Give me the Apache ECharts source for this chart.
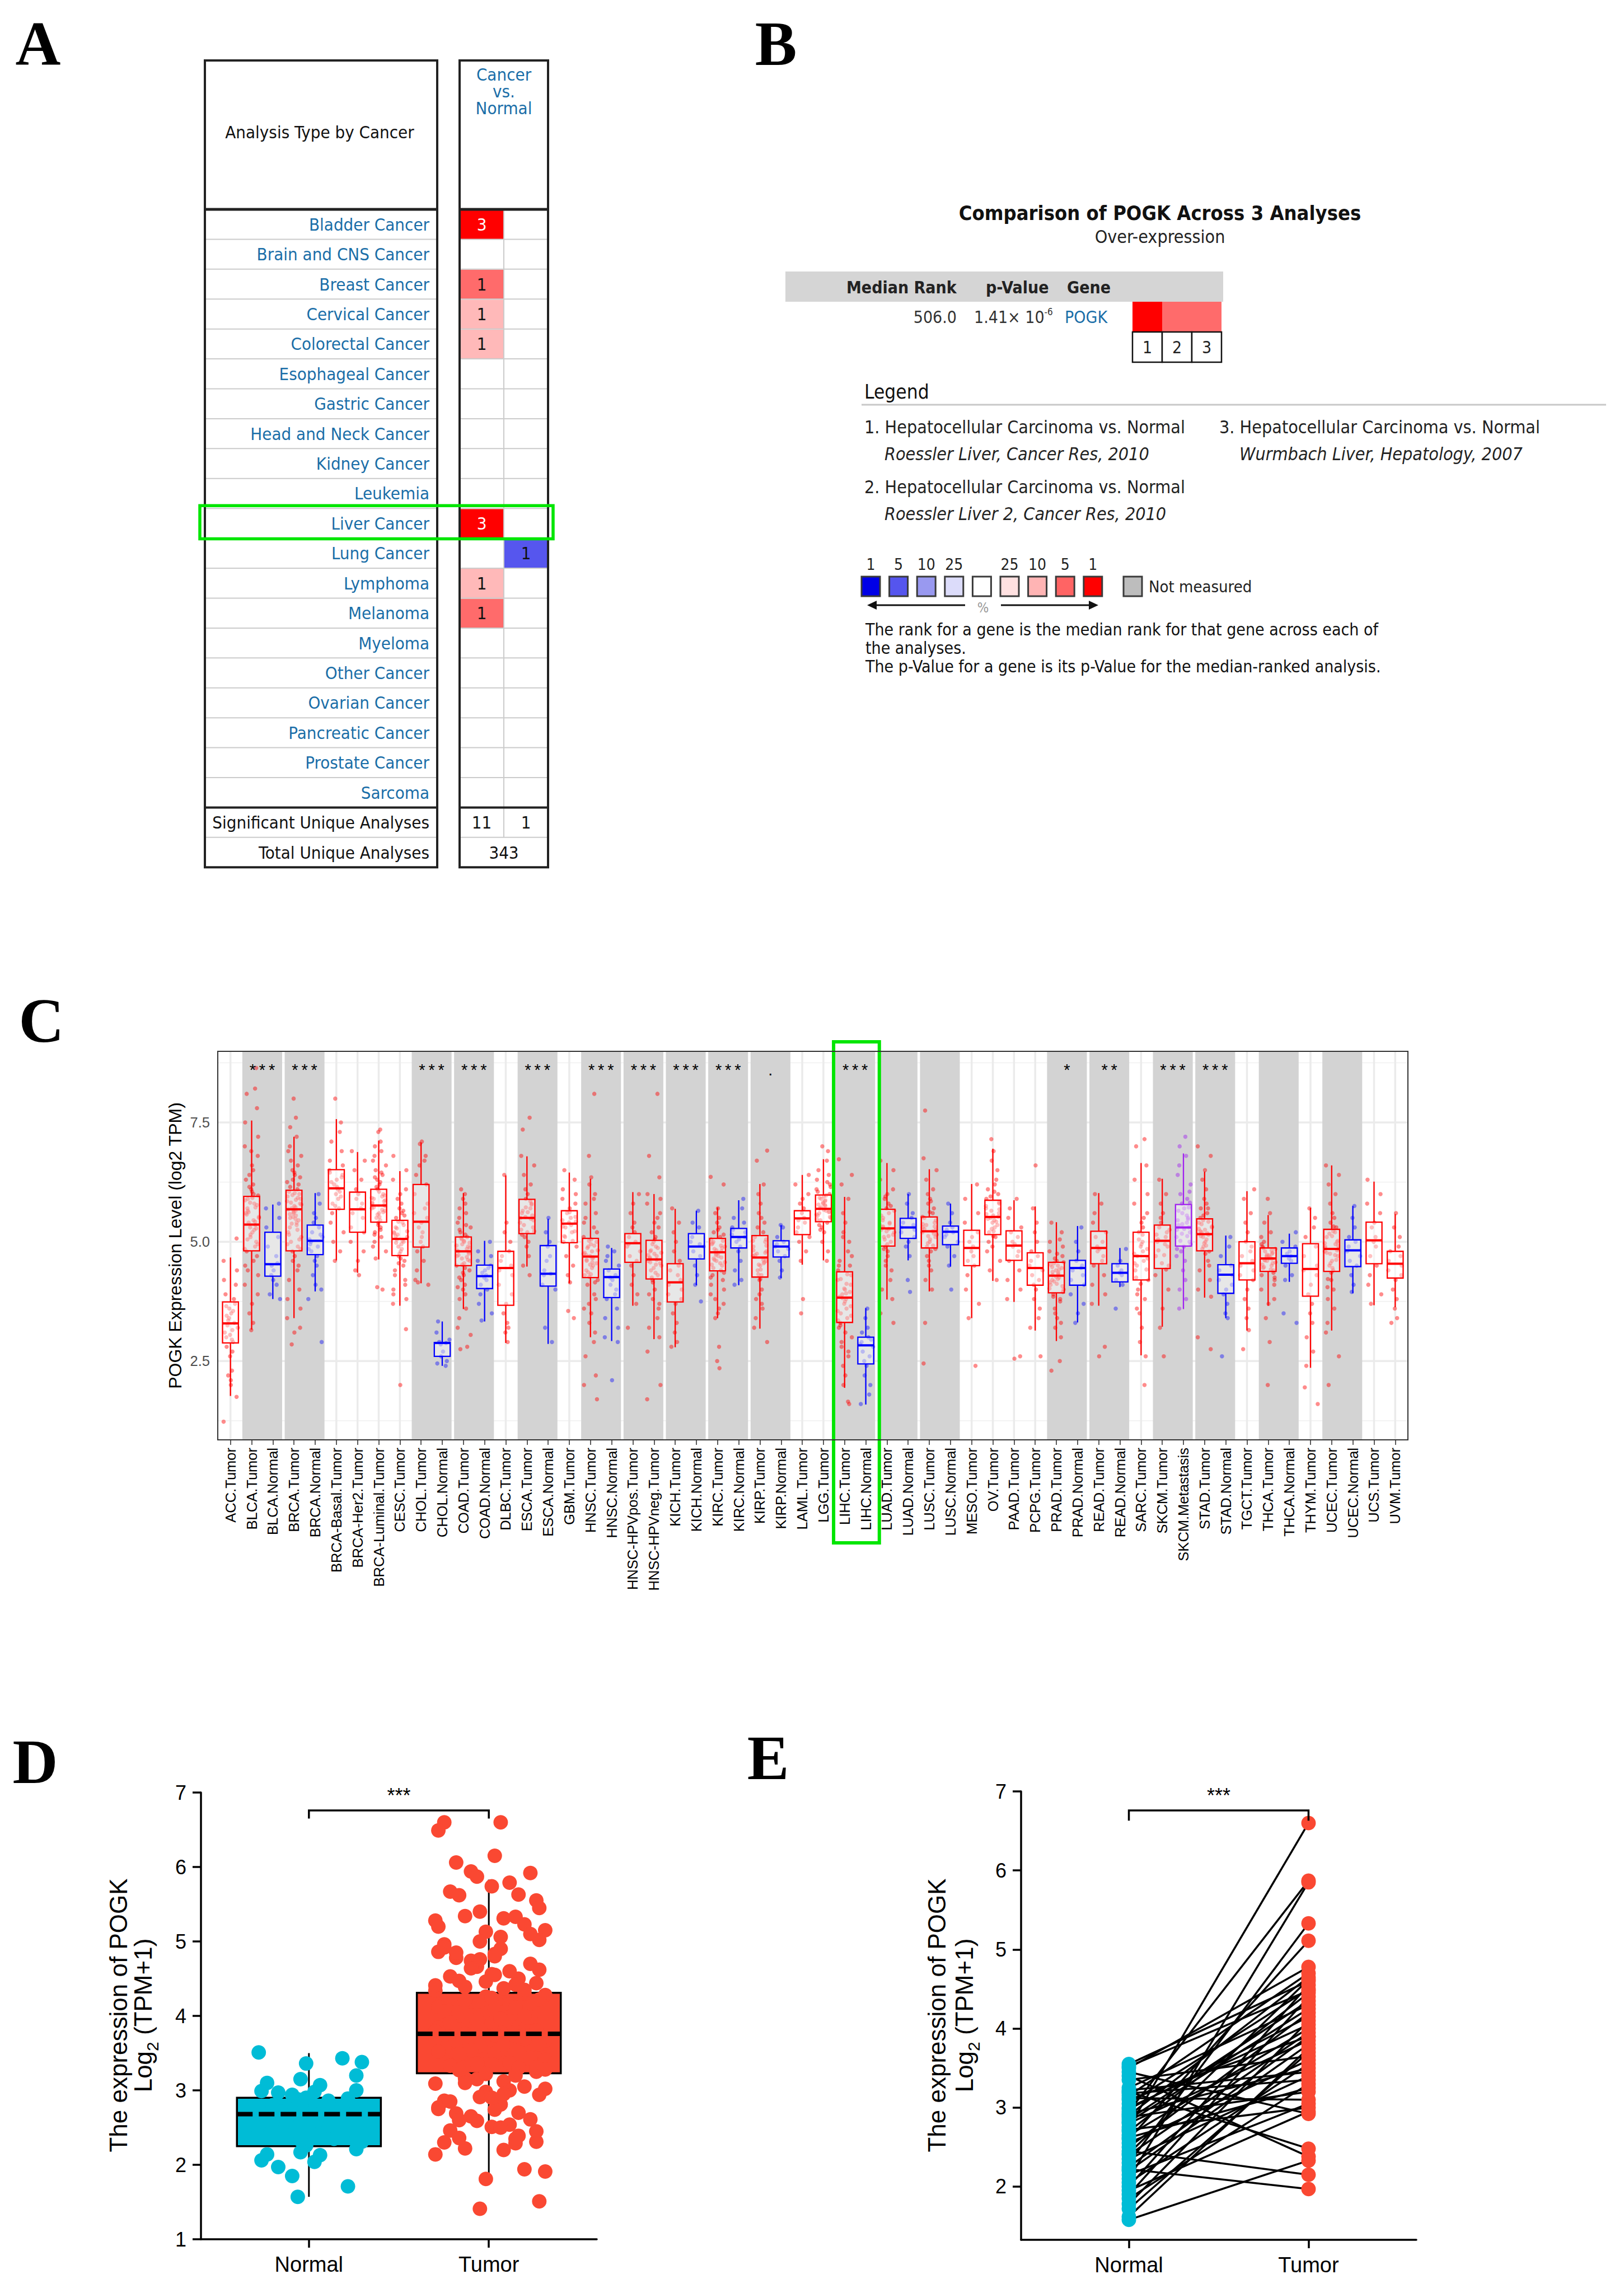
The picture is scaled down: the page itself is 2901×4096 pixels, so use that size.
<!DOCTYPE html>
<html><head><meta charset="utf-8">
<script src="https://cdn.jsdelivr.net/npm/echarts@6/dist/echarts.min.js"></script>
<style>html,body{margin:0;padding:0;background:#fff;}#c{width:2901px;height:4096px;}</style>
</head><body><div id="c"></div>
<script>
// ================= DATA =================
// Panel A (Oncomine summary)
const cancerTypes = ['Bladder Cancer','Brain and CNS Cancer','Breast Cancer','Cervical Cancer','Colorectal Cancer','Esophageal Cancer','Gastric Cancer','Head and Neck Cancer','Kidney Cancer','Leukemia','Liver Cancer','Lung Cancer','Lymphoma','Melanoma','Myeloma','Other Cancer','Ovarian Cancer','Pancreatic Cancer','Prostate Cancer','Sarcoma'];
const overCounts  = [3,null,1,1,1,null,null,null,null,null,3,null,1,1,null,null,null,null,null,null];
const overPct     = [1,null,5,10,10,null,null,null,null,null,1,null,10,5,null,null,null,null,null,null];
const underCounts = [null,null,null,null,null,null,null,null,null,null,null,1,null,null,null,null,null,null,null,null];
const underPct    = [null,null,null,null,null,null,null,null,null,null,null,5,null,null,null,null,null,null,null,null];
const significantUnique = [11, 1];
const totalUnique = 343;
const highlightRow = 10;

// Panel B
const geneName = 'POGK';
const medianRank = '506.0';
const pMantissa = '1.41\u00d7 10';
const pExponent = '-6';
const analysisPct = [1, 5, 5];
const analysisIds = [1, 2, 3];
const legendTitles = ['1. Hepatocellular Carcinoma vs. Normal','2. Hepatocellular Carcinoma vs. Normal','3. Hepatocellular Carcinoma vs. Normal'];
const legendRefs = ['Roessler Liver, Cancer Res, 2010','Roessler Liver 2, Cancer Res, 2010','Wurmbach Liver, Hepatology, 2007'];
const scaleLabels = ['1','5','10','25','','25','10','5','1'];
const scaleColors = ['#0000e6','#5555ee','#9999f0','#dcdcfa','#ffffff','#ffe1e1','#ffb4b4','#ff6464','#ff0000'];
const noteLines = ['The rank for a gene is the median rank for that gene across each of','the analyses.','The p-Value for a gene is its p-Value for the median-ranked analysis.'];

// Panel C (TIMER)
const tcgaCategories = ['ACC.Tumor','BLCA.Tumor','BLCA.Normal','BRCA.Tumor','BRCA.Normal','BRCA-Basal.Tumor','BRCA-Her2.Tumor','BRCA-Luminal.Tumor','CESC.Tumor','CHOL.Tumor','CHOL.Normal','COAD.Tumor','COAD.Normal','DLBC.Tumor','ESCA.Tumor','ESCA.Normal','GBM.Tumor','HNSC.Tumor','HNSC.Normal','HNSC-HPVpos.Tumor','HNSC-HPVneg.Tumor','KICH.Tumor','KICH.Normal','KIRC.Tumor','KIRC.Normal','KIRP.Tumor','KIRP.Normal','LAML.Tumor','LGG.Tumor','LIHC.Tumor','LIHC.Normal','LUAD.Tumor','LUAD.Normal','LUSC.Tumor','LUSC.Normal','MESO.Tumor','OV.Tumor','PAAD.Tumor','PCPG.Tumor','PRAD.Tumor','PRAD.Normal','READ.Tumor','READ.Normal','SARC.Tumor','SKCM.Tumor','SKCM.Metastasis','STAD.Tumor','STAD.Normal','TGCT.Tumor','THCA.Tumor','THCA.Normal','THYM.Tumor','UCEC.Tumor','UCEC.Normal','UCS.Tumor','UVM.Tumor'];
const boxLow  = [1.77,3.16,3.8,3.4,3.96,4.61,4.35,4.63,3.66,4.13,2.4,3.59,3.33,2.88,4.48,2.86,4.13,3.0,2.92,3.66,2.96,2.79,4.09,3.4,4.09,3.18,4.24,4.52,4.61,1.94,1.59,3.79,4.61,3.96,4.48,3.4,4.18,3.74,3.14,2.92,3.31,3.66,4.05,2.62,3.22,3.59,3.83,3.4,3.14,3.66,4.16,2.36,3.14,3.92,3.67,3.63];
const boxQ1   = [2.88,4.81,4.28,4.81,4.73,5.68,5.2,5.41,4.71,4.89,2.6,4.5,4.02,3.67,5.17,4.07,4.98,4.25,3.83,4.57,4.22,3.74,4.64,4.39,4.87,4.26,4.68,5.15,5.42,3.31,2.44,4.91,5.07,4.87,4.94,4.5,5.15,4.61,4.09,3.93,4.09,4.54,4.16,4.2,4.44,4.91,4.81,3.92,4.2,4.38,4.55,3.86,4.38,4.48,4.54,4.24];
const boxMed  = [3.29,5.36,4.53,5.68,5.02,6.12,5.68,5.76,5.06,5.42,2.88,4.8,4.28,4.45,5.5,4.33,5.38,4.69,4.26,4.97,4.63,4.15,4.9,4.78,5.1,4.67,4.9,5.49,5.69,3.83,2.83,5.28,5.3,5.22,5.21,4.87,5.52,4.92,4.45,4.29,4.45,4.87,4.35,4.7,5.02,5.3,5.16,4.31,4.55,4.65,4.7,4.43,4.85,4.82,5.03,4.54];
const boxQ3   = [3.74,5.95,5.2,6.08,5.35,6.51,6.04,6.1,5.45,6.2,2.89,5.1,4.51,4.8,5.89,4.92,5.65,5.07,4.43,5.17,5.03,4.54,5.17,5.07,5.28,5.13,5.02,5.65,5.98,4.37,3.0,5.68,5.49,5.52,5.33,5.24,5.87,5.23,4.77,4.57,4.61,5.22,4.54,5.2,5.35,5.78,5.48,4.52,5.0,4.87,4.87,4.96,5.26,5.04,5.41,4.8];
const boxHigh = [4.67,7.54,5.78,7.2,6.02,7.57,6.88,7.12,6.48,7.08,3.33,6.02,5.02,6.39,6.79,5.48,6.45,6.32,4.87,6.04,6.0,5.69,5.65,5.72,5.87,6.21,5.35,6.4,6.73,5.94,3.61,6.65,6.0,6.52,5.8,6.21,6.95,5.87,5.74,5.41,5.33,6.02,4.87,6.65,6.32,6.85,6.47,5.13,6.06,5.56,5.17,5.71,6.6,5.75,6.26,5.58];
const sigBands = [[1,2,'***'],[3,4,'***'],[9,10,'***'],[11,12,'***'],[14,15,'***'],[17,18,'***'],[19,20,'***'],[21,22,'***'],[23,24,'***'],[25,26,'.'],[29,30,'***'],[31,32,''],[33,34,''],[39,40,'*'],[41,42,'**'],[44,45,'***'],[46,47,'***'],[49,50,''],[52,53,'']];
const highlightCats = [29, 30];
const cTicks = [2.5, 5.0, 7.5];
const cMinorGrid = [1.25, 3.75, 6.25, 8.75];
const tcgaPoints = [
 [1.23,1.75,2.0,2.2,2.3,2.6,2.7,2.8,2.9,3.0,3.1,3.2,3.25,3.3,3.4,3.5,3.6,3.7,3.8,3.9,4.1,4.2,4.4,4.6,5.07,2.1,3.35,2.95,3.05,3.15,3.45,3.55,3.65],
 [8.64,8.21,8.1,7.8,7.5,7.2,7.0,6.8,6.6,6.4,6.2,6.1,6.0,5.9,5.8,5.7,5.6,5.5,5.4,5.35,5.3,5.2,5.1,5.0,4.9,4.8,4.7,4.5,4.3,4.1,3.9,3.7,3.5,3.3,3.15,5.45,5.65,5.25,5.05,6.3,5.52,5.62,5.72,5.82,5.92,5.15,5.28,5.42,5.57,5.77,5.87,5.97,4.85,4.95,6.05,6.15,6.5,6.9,4.6,4.4],
 [3.8,3.9,4.1,4.3,4.4,4.5,4.55,4.7,4.9,5.1,5.3,5.5,5.7,5.8,4.2],
 [8.0,7.6,7.4,7.2,7.0,6.9,6.8,6.7,6.6,6.5,6.4,6.3,6.2,6.1,6.05,6.0,5.95,5.9,5.85,5.8,5.75,5.7,5.65,5.6,5.55,5.5,5.4,5.3,5.2,5.1,5.0,4.9,4.8,4.7,4.6,4.5,4.4,4.2,4.0,3.8,3.6,3.4,3.2,3.1,2.85,5.72,5.62,5.88,6.15,5.35,5.58,5.68,5.78,5.82,5.92,5.98,6.02,5.52,5.45,5.25,5.15,5.05,4.95,4.85,6.25,6.35,6.45,5.38,5.48,5.66],
 [2.9,3.8,4.0,4.1,4.3,4.5,4.6,4.7,4.8,4.9,5.0,5.05,5.1,5.2,5.3,5.4,5.5,5.6,5.8,6.0,4.95,5.15,4.85],
 [8.0,7.5,7.3,7.1,6.9,6.7,6.6,6.5,6.4,6.3,6.2,6.1,6.0,5.9,5.8,5.7,5.6,5.4,5.2,5.0,4.8,4.6,6.15,5.75,5.95,6.05,6.25,6.35,6.45],
 [6.9,6.7,6.5,6.3,6.1,6.0,5.9,5.8,5.7,5.6,5.5,5.3,5.2,5.0,4.8,4.6,4.4,4.3],
 [7.35,7.3,7.1,7.0,6.9,6.8,6.7,6.6,6.5,6.4,6.3,6.2,6.1,6.0,5.95,5.9,5.85,5.8,5.75,5.7,5.65,5.6,5.5,5.45,5.4,5.3,5.2,5.1,5.0,4.9,4.8,4.65,4.0,4.05,5.52,5.57,5.62,5.67,5.72,5.77,5.82,5.87,5.92,5.97,6.05,6.15,6.25,5.35,5.25,6.35,6.45,5.15],
 [6.8,6.5,6.3,6.1,6.0,5.9,5.8,5.7,5.6,5.5,5.4,5.3,5.2,5.1,5.05,5.0,4.9,4.8,4.7,4.6,4.5,4.4,4.2,4.0,3.8,3.7,3.17,2.0,5.15,4.95,4.75,4.85,4.98,5.02,5.12,5.18,5.22,5.28,5.35,5.42,4.65,4.55,5.55,5.65,4.3,4.1,3.9],
 [7.1,7.05,6.8,6.7,6.4,6.2,6.0,5.8,5.6,5.5,5.4,5.3,5.2,5.0,4.9,4.8,4.6,4.4,4.2,4.1,4.15,5.7,6.6,5.1],
 [3.33,3.1,2.95,2.9,2.88,2.85,2.7,2.6,2.5,2.4,2.45],
 [6.1,6.0,5.9,5.8,5.7,5.6,5.5,5.4,5.3,5.2,5.1,5.05,5.0,4.95,4.9,4.85,4.8,4.75,4.7,4.6,4.5,4.4,4.3,4.2,4.1,4.0,3.9,3.8,3.6,3.4,3.2,3.05,2.75,2.8,4.65,4.55,4.52,4.62,4.68,4.72,4.78,4.82,4.88,4.92,4.98,5.02,5.08,4.45,4.35,5.15,5.25,5.35,4.25,4.05],
 [5.0,4.8,4.7,4.6,4.5,4.4,4.35,4.3,4.25,4.2,4.1,4.0,3.9,3.7,3.5,3.35,4.45],
 [6.4,5.4,5.2,5.0,4.8,4.6,4.5,4.4,4.3,4.1,3.9,3.7,3.5,3.3,3.1,2.9,4.7,3.2],
 [7.6,7.35,6.8,6.6,6.4,6.2,6.1,6.0,5.9,5.8,5.7,5.6,5.55,5.5,5.45,5.4,5.3,5.2,5.1,5.0,4.9,4.7,4.5,4.3,5.65,5.25,5.22,5.35,5.48,5.52,5.62,5.72,5.78,5.85,5.15],
 [5.5,5.2,5.0,4.9,4.7,4.4,4.33,4.3,4.1,4.0,3.2,2.9,4.6],
 [6.5,6.3,6.1,6.0,5.9,5.8,5.7,5.6,5.5,5.4,5.35,5.3,5.2,5.1,5.0,4.9,4.7,4.5,4.3,4.15,3.55,3.4,5.02,5.12,5.22,5.32,5.42,5.45,5.52,5.62],
 [8.1,6.8,6.35,6.2,6.0,5.9,5.8,5.6,5.4,5.2,5.1,5.0,4.95,4.9,4.8,4.7,4.65,4.6,4.5,4.4,4.3,4.2,4.1,3.9,3.7,3.5,3.3,3.1,2.9,2.6,2.2,2.0,1.7,4.75,4.55,4.32,4.36,4.45,4.52,4.57,4.62,4.67,4.72,4.77,4.82,4.87,4.92,5.02,5.05,4.27,4.15,5.3,5.5,3.8,3.6],
 [4.9,4.8,4.7,4.6,4.5,4.4,4.3,4.25,4.2,4.1,4.0,3.9,3.8,3.6,3.4,3.2,3.0,2.9,2.1],
 [6.0,5.8,5.6,5.4,5.3,5.2,5.1,5.0,4.95,4.9,4.8,4.7,4.6,4.5,4.3,4.1,3.9,3.7,3.2],
 [8.1,6.8,6.35,6.0,5.9,5.8,5.6,5.4,5.2,5.1,5.0,4.9,4.8,4.7,4.65,4.6,4.5,4.4,4.3,4.2,4.0,3.8,3.6,3.4,3.2,3.0,2.7,2.0,1.7,4.55,4.75,4.25,4.35,4.45,4.52,4.57,4.62,4.67,4.72,4.77,4.82,4.87,4.95,5.05,4.15,5.3,5.5,3.9,3.7],
 [5.7,5.4,5.2,5.0,4.8,4.6,4.5,4.4,4.2,4.1,4.0,3.9,3.8,3.7,3.5,3.3,3.1,2.9,2.8,4.3],
 [5.65,5.4,5.3,5.1,5.0,4.9,4.8,4.7,4.5,4.3,4.1,3.75,4.95],
 [6.36,6.2,5.7,5.6,5.5,5.4,5.3,5.2,5.1,5.0,4.95,4.9,4.85,4.8,4.75,4.7,4.6,4.5,4.4,4.3,4.2,4.1,4.0,3.9,3.7,3.5,3.4,2.8,2.5,2.35,4.65,4.55,4.45,4.52,4.57,4.62,4.67,4.72,4.77,4.82,4.87,4.92,4.97,5.02,5.05,4.35,4.25,5.15,5.25,3.8,3.6],
 [5.9,5.7,5.5,5.4,5.3,5.2,5.15,5.1,5.05,5.0,4.9,4.8,4.6,4.4,4.2,4.1,5.25],
 [6.91,6.7,6.2,6.0,5.8,5.6,5.4,5.2,5.1,5.0,4.9,4.8,4.7,4.6,4.5,4.4,4.3,4.2,4.0,3.8,3.6,3.4,3.2,2.9,4.75,4.55,4.32,4.42,4.52,4.57,4.62,4.72,4.77,4.82,4.92,5.02,5.05,4.22,5.3,5.5,3.9,3.7],
 [5.35,5.3,5.1,5.0,4.95,4.9,4.85,4.8,4.7,4.6,4.4,4.25],
 [6.4,6.2,6.0,5.9,5.8,5.7,5.6,5.5,5.45,5.4,5.3,5.2,5.1,5.0,4.8,4.6,3.8,3.5],
 [7.0,6.9,6.7,6.5,6.4,6.3,6.2,6.1,6.0,5.95,5.9,5.85,5.8,5.75,5.7,5.65,5.6,5.55,5.5,5.45,5.4,5.3,5.2,5.0,4.8,4.6,5.78,5.62,5.47,5.52,5.57,5.63,5.67,5.72,5.77,5.82,5.87,5.92,5.97,5.35,6.05,6.15,5.25,6.25],
 [6.73,6.4,6.2,5.9,5.6,5.4,5.2,5.0,4.8,4.6,4.5,4.4,4.3,4.2,4.1,4.0,3.9,3.8,3.7,3.6,3.5,3.4,3.3,3.2,3.0,2.8,2.6,2.4,2.2,2.0,1.6,1.65,3.85,3.95,3.35,3.45,3.55,3.65,3.75,3.82,3.92,4.02,4.12,4.22,4.32,3.25,4.5,4.7,2.9,2.7,5.1,3.1],
 [3.6,3.4,3.2,3.1,3.0,2.9,2.85,2.8,2.7,2.6,2.5,2.4,2.2,2.0,1.8,1.6,2.95],
 [6.7,6.5,6.3,6.1,6.0,5.9,5.8,5.7,5.6,5.5,5.4,5.3,5.25,5.2,5.1,5.0,4.9,4.8,4.6,4.4,4.2,4.0,3.8,3.5,3.3,5.35,5.15,4.95,5.05,5.12,5.22,5.27,5.32,5.38,5.45,5.55,5.65,4.85,5.75,5.95,4.7,4.5],
 [6.0,5.8,5.6,5.5,5.4,5.35,5.3,5.25,5.2,5.1,5.0,4.9,4.7,4.2,3.95],
 [7.75,6.75,6.5,6.3,6.1,6.0,5.9,5.8,5.7,5.6,5.5,5.4,5.3,5.25,5.2,5.1,5.0,4.9,4.8,4.6,4.4,4.2,4.0,3.3,2.45,5.15,5.35,4.92,4.97,5.05,5.12,5.17,5.22,5.27,5.32,5.37,5.45,5.52,4.85,5.62,4.7,5.85,4.5],
 [5.8,5.6,5.4,5.3,5.25,5.2,5.15,5.1,5.0,4.9,4.7,4.5,4.0],
 [6.2,5.9,5.6,5.4,5.2,5.1,5.0,4.9,4.8,4.7,4.6,4.5,4.3,4.0,3.7,3.4,2.4],
 [7.15,6.9,6.7,6.5,6.3,6.1,6.0,5.9,5.8,5.7,5.6,5.55,5.5,5.45,5.4,5.3,5.2,5.1,5.0,4.8,4.6,4.4,4.2,5.65,5.22,5.27,5.35,5.42,5.48,5.53,5.58,5.68,5.75,5.82,5.12,5.95,6.05,4.9,6.2],
 [5.9,5.7,5.5,5.3,5.2,5.1,5.0,4.95,4.9,4.8,4.7,4.6,4.4,4.2,4.0,3.8,2.6,2.55],
 [6.6,5.7,5.4,5.2,5.0,4.8,4.7,4.6,4.5,4.4,4.3,4.2,4.1,4.0,3.8,3.6,3.4,3.2,2.6],
 [5.4,5.2,5.0,4.9,4.8,4.7,4.6,4.55,4.5,4.4,4.35,4.3,4.25,4.2,4.1,4.0,3.9,3.8,3.6,3.4,3.2,3.0,2.5,2.3,4.45,4.15,3.95,4.02,4.07,4.12,4.17,4.22,4.27,4.32,4.37,4.42,4.47,4.52,4.57,3.85,3.75,4.65,4.75,3.5,3.3,5.05],
 [5.3,5.0,4.8,4.6,4.5,4.45,4.4,4.3,4.2,4.1,3.9,3.7,3.5,3.3],
 [6.0,5.8,5.6,5.4,5.2,5.1,5.0,4.9,4.85,4.8,4.7,4.6,4.5,4.3,4.1,3.9,3.7,2.8,2.6],
 [4.85,4.6,4.5,4.4,4.35,4.3,4.2,4.1,3.6],
 [7.15,7.0,6.6,6.3,6.0,5.8,5.6,5.4,5.2,5.0,4.9,4.8,4.7,4.6,4.5,4.4,4.2,4.0,3.8,3.5,3.2,2.9,2.6,2.0,4.25,4.42,4.55,4.65,4.75,4.85,4.95,5.05,5.15,4.12,5.3,3.9,5.5,3.6],
 [6.3,6.0,5.8,5.6,5.4,5.2,5.1,5.0,4.9,4.7,4.5,4.3,4.0,3.6,3.2,2.6,4.55,4.72,4.82,4.95,5.05,5.15,5.25,5.3,4.42,5.5],
 [7.2,7.0,6.8,6.6,6.4,6.2,6.0,5.9,5.8,5.7,5.6,5.5,5.4,5.35,5.3,5.25,5.2,5.1,5.0,4.9,4.8,4.6,4.4,4.2,4.0,3.8,3.6,5.45,4.95,5.02,5.12,5.17,5.27,5.37,5.47,5.55,5.65,5.72,4.85,5.82,4.7,6.05],
 [7.0,6.8,6.5,6.3,6.1,5.9,5.8,5.7,5.6,5.5,5.4,5.3,5.2,5.15,5.1,5.0,4.9,4.8,4.6,4.4,4.2,4.0,3.85,3.0,2.75,5.25,4.85,4.92,4.97,5.05,5.12,5.18,5.22,5.27,5.32,5.37,5.42,5.45,4.75,5.55,4.5,5.7],
 [5.1,4.9,4.7,4.5,4.4,4.3,4.2,4.1,4.0,3.9,3.7,3.5,3.4,2.6],
 [6.1,5.9,5.6,5.4,5.2,5.0,4.9,4.8,4.7,4.6,4.5,4.4,4.3,4.2,4.0,3.8,3.6,3.4,3.15,2.75],
 [5.9,5.6,5.4,5.2,5.0,4.9,4.85,4.8,4.75,4.7,4.65,4.6,4.55,4.5,4.45,4.4,4.3,4.2,4.0,3.8,3.7,3.4,2.9,2.0,4.68,4.62,4.42,4.47,4.52,4.57,4.61,4.64,4.67,4.71,4.73,4.77,4.82,4.87,4.35,4.95,4.25,5.1,4.1],
 [5.2,5.0,4.9,4.8,4.75,4.7,4.65,4.6,4.5,4.3,4.2,3.5,3.3],
 [5.7,5.5,5.3,5.1,4.9,4.7,4.5,4.4,4.3,4.1,3.9,3.7,3.5,3.3,3.0,2.7,2.4,1.95,1.6],
 [6.6,6.4,6.2,6.0,5.8,5.6,5.4,5.3,5.2,5.1,5.0,4.9,4.85,4.8,4.7,4.6,4.5,4.4,4.2,4.0,3.8,3.6,3.3,3.1,2.6,2.0,4.95,4.75,4.45,4.55,4.62,4.72,4.77,4.82,4.87,4.92,4.97,5.02,5.12,5.17,5.22,4.35,5.32,4.22,5.5,4.05],
 [5.75,5.5,5.3,5.1,5.0,4.9,4.8,4.7,4.6,4.5,4.3,4.1,3.95],
 [6.3,6.0,5.8,5.6,5.4,5.3,5.1,5.0,4.9,4.7,4.5,4.3,4.1,3.9,3.7],
 [5.6,5.3,5.1,4.9,4.8,4.7,4.6,4.5,4.4,4.3,4.2,4.0,3.8,3.6,3.4,3.3]
];

// Panel D (unpaired)
const groupNames = ['Normal', 'Tumor'];
const dNormalBox = [1.57, 2.25, 2.68, 2.9, 3.5];
const dTumorBox  = [1.8, 3.23, 3.76, 4.31, 5.83];
const dNormalPts = [3.51,3.43,3.38,3.36,3.2,3.15,3.1,3.07,2.99,2.98,2.97,2.94,2.89,2.88,2.86,2.81,2.75,2.74,2.71,2.66,2.61,2.6,2.51,2.46,2.39,2.31,2.26,2.21,2.17,2.14,2.13,2.06,2.04,1.97,1.85,1.71,1.57,2.55,2.7,2.8,2.45,2.62,2.72,2.35,2.58,2.68,2.52,2.78,2.42,2.9,3.0,2.33];
const dTumorPts = [6.6,6.6,6.49,6.15,6.06,5.94,5.92,5.87,5.79,5.74,5.67,5.63,5.62,5.55,5.33,5.34,5.31,5.28,5.23,5.15,5.13,5.02,5.0,4.96,4.9,4.86,4.83,4.78,4.74,4.7,4.66,4.6,4.56,4.53,4.5,4.47,4.44,4.42,4.39,4.37,4.34,
 4.3,4.28,4.26,4.22,4.2,4.17,4.14,4.12,4.09,4.05,4.01,3.98,3.95,3.93,3.9,3.87,3.85,3.82,3.8,3.78,3.76,3.73,3.71,3.69,3.67,3.64,3.62,3.6,3.57,3.55,3.52,3.5,3.47,3.45,3.42,3.4,3.37,3.35,3.33,3.3,3.27,3.25,
 3.2,3.16,3.12,3.09,3.05,3.02,2.98,2.94,2.91,2.86,2.81,2.77,2.74,2.69,2.65,2.61,2.59,2.54,2.51,2.46,2.39,2.36,2.31,2.29,2.22,2.2,2.14,1.94,1.91,1.81,1.51,1.41,
 4.06,3.96,3.84,3.74,3.66,3.54,3.44,3.36,4.16,4.24,3.91,3.72,3.49,3.31,4.11,4.21,3.61,3.79,4.0,3.41,4.46,4.62,4.76,4.92,5.06,5.2,4.55,4.85,4.64,5.1,
 3.15,3.0,2.9,2.85,2.7,2.6,2.45,2.35,3.1,2.95,4.41,4.35,3.28,3.22,5.45,5.4,2.3,2.5,2.75,4.8];
const dSig = '***';

// Panel E (paired)
const pairNormal = [2.75,2.95,2.1,2.3,2.6,3.55,3.4,3.2,2.45,2.22,1.58,3.5,3.15,2.9,2.0,3.05,2.7,1.9,2.85,3.25,2.5,1.78,3.0,2.65,2.4,3.1,2.8,2.2,1.72,3.35,2.55,2.05,2.92,3.22,2.35,1.85,2.62,3.12,2.15,2.72,1.95,3.45,2.82,2.98,1.62,2.42,3.18,2.88,3.52,2.25];
const pairTumor  = [6.6,5.87,5.85,5.33,5.11,4.6,2.38,2.48,2.15,1.97,2.33,4.78,4.7,4.65,4.55,4.5,4.45,4.4,4.35,4.3,4.2,4.1,4.05,4.0,3.95,3.9,3.85,3.8,3.7,3.65,3.6,3.55,3.5,3.45,3.4,3.3,3.25,3.1,3.05,3.0,2.95,2.92,4.25,4.15,3.75,4.62,3.35,3.2,4.48,3.9];
const eSig = '***';

// ================= STYLE / LAYOUT =================
const SERIF = "'Liberation Serif','Times New Roman',serif";
const COND = "'DejaVu Sans Condensed','Liberation Sans Narrow','DejaVu Sans',sans-serif";
const SANS = "'Liberation Sans',Arial,sans-serif";
const BLUE_TXT = '#1a6ea8';
const OVER_COL = {1:'#ff0000',5:'#ff6b6b',10:'#ffb9b9',25:'#ffe1e1'};
const UNDER_COL = {1:'#0000e6',5:'#5656ee',10:'#9999f0',25:'#dcdcfa'};
const TYPE_COL = {T:'#ff0000', N:'#0000ff', M:'#a020f0'};
const NORMAL_C = '#00bcd6', TUMOR_C = '#fa4832';
const JIT = [-0.9,0.35,-0.15,0.8,-0.55,0.6,0.05,-0.75,0.45,-0.3,0.95,-0.65,0.2,-0.4,0.7,-0.05,0.5,-0.85,0.25,-0.2,0.85,-0.5,0.1];
const typeOf = c => c.endsWith('Normal') ? 'N' : (c.endsWith('Metastasis') ? 'M' : 'T');
const spacedStars = s => s.split('').join('\u2009');

const G = [];
function T(x, y, text, s, extra) {
  const st = Object.assign({text: String(text), fontFamily: COND, fontSize: 31, fill: '#000', align: 'left', verticalAlign: 'middle'}, s || {});
  st.textAlign = st.align; st.textVerticalAlign = st.verticalAlign;
  G.push(Object.assign({type: 'text', x: x, y: y, z: 20, style: st}, extra || {}));
}
function R(x, y, w, h, s, z) { G.push({type: 'rect', z: z || 10, shape: {x: x, y: y, width: w, height: h}, style: s}); }
function L(x1, y1, x2, y2, stroke, lw, z) { G.push({type: 'line', z: z || 15, shape: {x1: x1, y1: y1, x2: x2, y2: y2}, style: {stroke: stroke, lineWidth: lw}}); }
function P(points, fill, z) { G.push({type: 'polygon', z: z || 15, shape: {points: points}, style: {fill: fill}}); }

// Panel letters
const LETTER = {fontFamily: SERIF, fontWeight: 'bold', fontSize: 112, align: 'center'};
T(68, 78, 'A', LETTER); T(1386, 78, 'B', LETTER); T(74, 1823, 'C', LETTER); T(63, 3147, 'D', LETTER); T(1372, 3140, 'E', LETTER);

// ---- Panel A table ----
(function () {
  const aL = 366, aR = 781, bL = 821, bR = 979, bM = 900, top = 108, head = 374, rh = 53.42;
  const rowY = i => head + i * rh;
  const sumTop = rowY(cancerTypes.length), end = sumTop + 2 * rh;
  cancerTypes.forEach((name, i) => {
    const y = rowY(i);
    T(767, y + rh / 2, name, {align: 'right', fill: BLUE_TXT});
    if (overCounts[i] != null) {
      R(bL + 2, y + 1, bM - bL - 2, rh - 1, {fill: OVER_COL[overPct[i]]}, 11);
      T((bL + bM) / 2, y + rh / 2, overCounts[i], {align: 'center', fill: overPct[i] === 1 ? '#fff' : '#111'});
    }
    if (underCounts[i] != null) {
      R(bM + 1, y + 1, bR - bM - 3, rh - 1, {fill: UNDER_COL[underPct[i]]}, 11);
      T((bM + bR) / 2, y + rh / 2, underCounts[i], {align: 'center', fill: underPct[i] === 1 ? '#fff' : '#111'});
    }
    if (i > 0) { L(aL, y, aR, y, '#cbcbcb', 2); L(bL, y, bR, y, '#cbcbcb', 2); }
  });
  L(aL, sumTop + rh, aR, sumTop + rh, '#cbcbcb', 2); L(bL, sumTop + rh, bR, sumTop + rh, '#cbcbcb', 2);
  L(bM, head, bM, sumTop + rh, '#cbcbcb', 2);
  L(aL, head, aR, head, '#222', 5, 16); L(bL, head, bR, head, '#222', 5, 16);
  L(aL, sumTop, aR, sumTop, '#222', 4, 16); L(bL, sumTop, bR, sumTop, '#222', 4, 16);
  R(aL, top, aR - aL, end - top, {fill: 'none', stroke: '#222', lineWidth: 4}, 17);
  R(bL, top, bR - bL, end - top, {fill: 'none', stroke: '#222', lineWidth: 4}, 17);
  T(571, 236, 'Analysis Type by Cancer', {align: 'center', fill: '#111'});
  T(bM, 133, 'Cancer', {align: 'center', fill: BLUE_TXT});
  T(bM, 163, 'vs.', {align: 'center', fill: BLUE_TXT});
  T(bM, 193, 'Normal', {align: 'center', fill: BLUE_TXT});
  T(767, sumTop + rh / 2, 'Significant Unique Analyses', {align: 'right', fill: '#111'});
  T(767, sumTop + 1.5 * rh, 'Total Unique Analyses', {align: 'right', fill: '#111'});
  T((bL + bM) / 2, sumTop + rh / 2, significantUnique[0], {align: 'center', fill: '#111'});
  T((bM + bR) / 2, sumTop + rh / 2, significantUnique[1], {align: 'center', fill: '#111'});
  T(bM, sumTop + 1.5 * rh, totalUnique, {align: 'center', fill: '#111'});
  R(357, rowY(highlightRow) - 5, 631, rh + 6, {fill: 'none', stroke: '#00e600', lineWidth: 5.5}, 25);
})();

// ---- Panel B ----
(function () {
  const TX = '#222';
  T(2072, 380, 'Comparison of ' + geneName + ' Across ' + analysisIds.length + ' Analyses', {align: 'center', fontWeight: 'bold', fontSize: 36, fill: '#111'});
  T(2072, 423, 'Over-expression', {align: 'center', fontSize: 32, fill: TX});
  R(1403, 485, 782, 54, {fill: '#d5d5d5'}, 9);
  T(1512, 513, 'Median Rank', {fontWeight: 'bold', fontSize: 30, fill: TX});
  T(1761, 513, 'p-Value', {fontWeight: 'bold', fontSize: 30, fill: TX});
  T(1906, 513, 'Gene', {fontWeight: 'bold', fontSize: 30, fill: TX});
  T(1709, 566, medianRank, {align: 'right', fontSize: 30, fill: '#333'});
  T(1740, 566, '{m|' + pMantissa + '}{e|' + pExponent + '}', {fontSize: 30, fill: '#333',
    rich: {m: {fontSize: 30, fontFamily: COND, fill: '#333', lineHeight: 36}, e: {fontSize: 17, fontFamily: COND, fill: '#333', lineHeight: 36, verticalAlign: 'top'}}});
  T(1902, 566, geneName, {fontSize: 30, fill: BLUE_TXT});
  analysisPct.forEach((p, k) => {
    const x = 2023 + k * 53;
    R(x, 539, 53, 53, {fill: OVER_COL[p]}, 11);
    R(x, 593, 53, 54, {fill: '#fff', stroke: '#111', lineWidth: 2.5}, 12);
    T(x + 26.5, 620, analysisIds[k], {align: 'center', fontSize: 30, fill: '#222'});
  });
  T(1544, 700, 'Legend', {fontSize: 35, fill: '#111'});
  L(1539, 723, 2869, 723, '#c8c8c8', 3);
  const lx = [1544, 1544, 2178], ly = [763, 870, 763];
  legendTitles.forEach((t, k) => {
    T(lx[k], ly[k], t, {fontSize: 32, fill: TX});
    T(lx[k] + 36, ly[k] + 48, legendRefs[k], {fontSize: 32, fill: TX, fontStyle: 'italic'});
  });
  scaleColors.forEach((c, k) => {
    const x = 1539 + k * 49.6;
    R(x, 1030, 33, 35, {fill: c, stroke: '#3a3a3a', lineWidth: 3}, 12);
    if (scaleLabels[k]) T(x + 16.5, 1008, scaleLabels[k], {align: 'center', fontSize: 28, fill: TX});
  });
  R(2007, 1030, 33, 35, {fill: '#bdbdbd', stroke: '#3a3a3a', lineWidth: 3}, 12);
  T(2052, 1048, 'Not measured', {fontSize: 29, fill: TX});
  L(1724, 1081, 1560, 1081, '#111', 3); P([[1549, 1081], [1566, 1073], [1566, 1089]], '#111');
  L(1788, 1081, 1950, 1081, '#111', 3); P([[1962, 1081], [1945, 1073], [1945, 1089]], '#111');
  T(1756, 1086, '%', {align: 'center', fontSize: 24, fill: '#999'});
  noteLines.forEach((s, k) => T(1546, 1124 + k * 33, s, {fontSize: 30, lineHeight: 31, fill: '#111'}));
})();

// Panel C frame
R(389, 1878, 2126, 694, {fill: 'none', stroke: '#333', lineWidth: 2}, 50);

// D/E y titles
[[211, 255], [1673, 1722]].forEach(xs => {
  T(xs[0], 3600, 'The expression of POGK', {fontFamily: SANS, fontSize: 44, align: 'center', fill: '#000'}, {rotation: Math.PI / 2});
  T(xs[1], 3600, '{a|Log}{b|2}{a| (TPM+1)}', {fontFamily: SANS, fontSize: 44, align: 'center', fill: '#000',
    rich: {a: {fontFamily: SANS, fontSize: 44, fill: '#000', lineHeight: 50}, b: {fontFamily: SANS, fontSize: 30, fill: '#000', lineHeight: 64, verticalAlign: 'bottom'}}}, {rotation: Math.PI / 2});
});

// ================= SERIES =================
const catIdx = tcgaCategories.map((_, i) => i);
const ptsBy = {T: [], N: [], M: []};
tcgaPoints.forEach((vals, i) => {
  const t = typeOf(tcgaCategories[i]);
  vals.forEach((v, k) => ptsBy[t].push([i + 0.36 * JIT[(k * 3 + i * 5) % JIT.length], v]));
});
const boxData = tcgaCategories.map((c, i) => [i, boxLow[i], boxQ1[i], boxMed[i], boxQ3[i], boxHigh[i]]);

function tcgaBox(params, api) {
  const i = api.value(0);
  const col = TYPE_COL[typeOf(tcgaCategories[params.dataIndex])];
  const hw = api.size([0.75, 0])[0] / 2;
  const pLo = api.coord([i, api.value(1)]), pQ1 = api.coord([i, api.value(2)]), pMd = api.coord([i, api.value(3)]),
        pQ3 = api.coord([i, api.value(4)]), pHi = api.coord([i, api.value(5)]);
  const x = pQ1[0];
  return {type: 'group', children: [
    {type: 'line', shape: {x1: x, y1: pHi[1], x2: x, y2: pQ3[1]}, style: {stroke: col, lineWidth: 2.3}},
    {type: 'line', shape: {x1: x, y1: pQ1[1], x2: x, y2: pLo[1]}, style: {stroke: col, lineWidth: 2.3}},
    {type: 'rect', shape: {x: x - hw, y: pQ3[1], width: 2 * hw, height: pQ1[1] - pQ3[1]}, style: {fill: 'rgba(255,255,255,0.45)', stroke: col, lineWidth: 2.3}},
    {type: 'line', shape: {x1: x - hw, y1: pMd[1], x2: x + hw, y2: pMd[1]}, style: {stroke: col, lineWidth: 4}}
  ]};
}

function simpleBox(colors) {
  return function (params, api) {
    const i = api.value(0);
    const hw = api.size([0.8, 0])[0] / 2;
    const pLo = api.coord([i, api.value(1)]), pQ1 = api.coord([i, api.value(2)]),
          pQ3 = api.coord([i, api.value(4)]), pHi = api.coord([i, api.value(5)]);
    const x = pQ1[0];
    return {type: 'group', children: [
      {type: 'line', shape: {x1: x, y1: pHi[1], x2: x, y2: pQ3[1]}, style: {stroke: '#000', lineWidth: 3}},
      {type: 'line', shape: {x1: x, y1: pQ1[1], x2: x, y2: pLo[1]}, style: {stroke: '#000', lineWidth: 3}},
      {type: 'rect', shape: {x: x - hw, y: pQ3[1], width: 2 * hw, height: pQ1[1] - pQ3[1]}, style: {fill: colors[params.dataIndex], stroke: '#000', lineWidth: 3.5}}
    ]};
  };
}
function medianDash(params, api) {
  const i = api.value(0);
  const hw = api.size([0.8, 0])[0] / 2;
  const p = api.coord([i, api.value(3)]);
  return {type: 'line', shape: {x1: p[0] - hw, y1: p[1], x2: p[0] + hw, y2: p[1]}, style: {stroke: '#000', lineWidth: 8, lineDash: [28, 11]}};
}
function bracket(label) {
  return function (params, api) {
    const a = api.value(0), b = api.value(1), yTop = api.value(2), yEnd = api.value(3);
    const p1 = api.coord([a, yEnd]), p2 = api.coord([a, yTop]), p3 = api.coord([b, yTop]), p4 = api.coord([b, yEnd]);
    const t = api.coord([(a + b) / 2, yTop]);
    return {type: 'group', children: [
      {type: 'polyline', shape: {points: [p1, p2, p3, p4]}, style: {stroke: '#000', lineWidth: 3.5, fill: 'none'}},
      {type: 'text', x: t[0], y: t[1] - 8, style: {text: label, fill: '#000', fontSize: 36, fontFamily: SANS, align: 'center', verticalAlign: 'bottom', textAlign: 'center', textVerticalAlign: 'bottom'}}
    ]};
  };
}
const jitterPts = (vals, x, w, phase) => vals.map((v, k) => [x + w * JIT[(k * 5 + phase) % JIT.length], v]);

const series = [
  // Panel C grid lines
  {type: 'custom', xAxisIndex: 0, yAxisIndex: 0, z: 1, silent: true,
   data: cTicks.map(v => [v, 1]).concat(cMinorGrid.map(v => [v, 0])),
   renderItem: (params, api) => {
     const cs = params.coordSys; const y = api.coord([0, api.value(0)])[1];
     return {type: 'line', shape: {x1: cs.x, y1: y, x2: cs.x + cs.width, y2: y}, style: {stroke: api.value(1) ? '#ebebeb' : '#f2f2f2', lineWidth: api.value(1) ? 3.5 : 1.8}};
   }},
  {type: 'custom', xAxisIndex: 0, yAxisIndex: 0, z: 1, silent: true, data: catIdx.map(i => [i]),
   renderItem: (params, api) => {
     const cs = params.coordSys; const x = api.coord([api.value(0), 5])[0];
     return {type: 'line', shape: {x1: x, y1: cs.y, x2: x, y2: cs.y + cs.height}, style: {stroke: '#ebebeb', lineWidth: 3.5}};
   }},
  // significance bands
  {type: 'custom', xAxisIndex: 0, yAxisIndex: 0, z: 2, silent: true, data: sigBands.map(b => [b[0], b[1]]),
   renderItem: (params, api) => {
     const cs = params.coordSys;
     const x1 = api.coord([api.value(0) - 0.44, 5])[0], x2 = api.coord([api.value(1) + 0.44, 5])[0];
     return {type: 'rect', shape: {x: x1, y: cs.y, width: x2 - x1, height: cs.height}, style: {fill: '#d3d3d3'}};
   }},
  // jitter points
  {type: 'scatter', xAxisIndex: 0, yAxisIndex: 0, z: 3, symbolSize: 7.5, data: ptsBy.T, itemStyle: {color: '#ff0000', opacity: 0.45}, silent: true},
  {type: 'scatter', xAxisIndex: 0, yAxisIndex: 0, z: 3, symbolSize: 7.5, data: ptsBy.N, itemStyle: {color: '#0000ff', opacity: 0.4}, silent: true},
  {type: 'scatter', xAxisIndex: 0, yAxisIndex: 0, z: 3, symbolSize: 7.5, data: ptsBy.M, itemStyle: {color: '#a020f0', opacity: 0.45}, silent: true},
  // boxes
  {type: 'custom', xAxisIndex: 0, yAxisIndex: 0, z: 4, data: boxData, renderItem: tcgaBox, silent: true},
  // stars
  {type: 'custom', xAxisIndex: 0, yAxisIndex: 0, z: 5, silent: true, data: sigBands.map(b => [(b[0] + b[1]) / 2, 8.6]),
   renderItem: (params, api) => {
     const p = api.coord([api.value(0), api.value(1)]);
     return {type: 'text', x: p[0], y: p[1], style: {text: spacedStars(sigBands[params.dataIndex][2]), fill: '#000', fontSize: 29, fontFamily: SANS, align: 'center', verticalAlign: 'middle', textAlign: 'center', textVerticalAlign: 'middle'}};
   }},
  // LIHC highlight
  {type: 'custom', xAxisIndex: 0, yAxisIndex: 0, z: 6, clip: false, silent: true, data: [highlightCats],
   renderItem: (params, api) => {
     const cs = params.coordSys;
     const x1 = api.coord([api.value(0) - 0.52, 5])[0], x2 = api.coord([api.value(1) + 0.64, 5])[0];
     return {type: 'rect', shape: {x: x1, y: cs.y - 17, width: x2 - x1, height: cs.height + 201}, style: {fill: 'none', stroke: '#00e600', lineWidth: 6}};
   }},
  // Panel D
  {type: 'custom', xAxisIndex: 1, yAxisIndex: 1, z: 2, silent: true, data: [[1].concat(dNormalBox), [2].concat(dTumorBox)], renderItem: simpleBox([NORMAL_C, TUMOR_C])},
  {type: 'scatter', xAxisIndex: 1, yAxisIndex: 1, z: 3, symbolSize: 26, silent: true, data: jitterPts(dNormalPts, 1, 0.31, 0), itemStyle: {color: NORMAL_C, opacity: 1}},
  {type: 'scatter', xAxisIndex: 1, yAxisIndex: 1, z: 3, symbolSize: 26, silent: true, data: jitterPts(dTumorPts, 2, 0.33, 7), itemStyle: {color: TUMOR_C, opacity: 1}},
  {type: 'custom', xAxisIndex: 1, yAxisIndex: 1, z: 4, silent: true, data: [[1].concat(dNormalBox), [2].concat(dTumorBox)], renderItem: medianDash},
  {type: 'custom', xAxisIndex: 1, yAxisIndex: 1, z: 4, silent: true, clip: false, data: [[1, 2, 6.76, 6.65]], renderItem: bracket(dSig)},
  // Panel E
  {type: 'custom', xAxisIndex: 2, yAxisIndex: 2, z: 2, silent: true, data: pairNormal.map((v, i) => [v, pairTumor[i]]),
   renderItem: (params, api) => {
     const a = api.coord([1, api.value(0)]), b = api.coord([2, api.value(1)]);
     return {type: 'line', shape: {x1: a[0], y1: a[1], x2: b[0], y2: b[1]}, style: {stroke: '#000', lineWidth: 3.5}};
   }},
  {type: 'scatter', xAxisIndex: 2, yAxisIndex: 2, z: 3, symbolSize: 26, silent: true, data: pairNormal.map(v => [1, v]), itemStyle: {color: NORMAL_C, opacity: 1}},
  {type: 'scatter', xAxisIndex: 2, yAxisIndex: 2, z: 3, symbolSize: 26, silent: true, data: pairTumor.map(v => [2, v]), itemStyle: {color: TUMOR_C, opacity: 1}},
  {type: 'custom', xAxisIndex: 2, yAxisIndex: 2, z: 4, silent: true, clip: false, data: [[1, 2, 6.76, 6.63]], renderItem: bracket(eSig)}
];

const dxAxis = gi => ({gridIndex: gi, type: 'value', min: 0.4, max: 2.6, axisLine: {show: true, onZero: false, lineStyle: {color: '#000', width: 3.5}},
  splitLine: {show: false}, axisTick: {show: true, customValues: [1, 2], length: 15, lineStyle: {color: '#000', width: 3.5}},
  axisLabel: {customValues: [1, 2], formatter: v => groupNames[Math.round(v) - 1], fontFamily: SANS, fontSize: 38, color: '#000', margin: 26}});

const option = {
  animation: false,
  backgroundColor: '#fff',
  graphic: {elements: G},
  grid: [
    {left: 389, top: 1878, width: 2126, height: 694, outerBoundsMode: 'none', containLabel: false},
    {left: 359, top: 3202, width: 707, height: 798, outerBoundsMode: 'none', containLabel: false},
    {left: 1824, top: 3200, width: 706, height: 801, outerBoundsMode: 'none', containLabel: false}
  ],
  xAxis: [
    {gridIndex: 0, type: 'value', min: -0.6, max: 55.6, axisLine: {show: false}, splitLine: {show: false},
     axisTick: {show: true, customValues: catIdx, length: 9, lineStyle: {color: '#333', width: 1.6}},
     axisLabel: {customValues: catIdx, rotate: 90, formatter: v => tcgaCategories[Math.round(v)], fontFamily: SANS, fontSize: 25.5, color: '#000', margin: 14}},
    dxAxis(1), dxAxis(2)
  ],
  yAxis: [
    {gridIndex: 0, type: 'value', min: 0.85, max: 8.99, axisLine: {show: false}, splitLine: {show: false},
     axisTick: {show: true, customValues: cTicks, length: 9, lineStyle: {color: '#333', width: 1.6}},
     axisLabel: {customValues: cTicks, formatter: v => v.toFixed(1), fontFamily: SANS, fontSize: 25.5, color: '#4d4d4d', margin: 14},
     name: 'POGK Expression Level (log2 TPM)', nameLocation: 'middle', nameGap: 60, nameTextStyle: {fontFamily: SANS, fontSize: 32, color: '#000'}},
    {gridIndex: 1, type: 'value', min: 1, max: 7, interval: 1, axisLine: {show: true, onZero: false, lineStyle: {color: '#000', width: 3.5}}, splitLine: {show: false},
     axisTick: {show: true, length: 15, lineStyle: {color: '#000', width: 3.5}}, axisLabel: {fontFamily: SANS, fontSize: 36, color: '#000', margin: 26}},
    {gridIndex: 2, type: 'value', min: 1.327, max: 7, axisLine: {show: true, onZero: false, lineStyle: {color: '#000', width: 3.5}}, splitLine: {show: false},
     axisTick: {show: true, customValues: [2, 3, 4, 5, 6, 7], length: 15, lineStyle: {color: '#000', width: 3.5}},
     axisLabel: {customValues: [2, 3, 4, 5, 6, 7], fontFamily: SANS, fontSize: 36, color: '#000', margin: 26}}
  ],
  series: series
};
const chart = echarts.init(document.getElementById('c'), null, {renderer: 'svg', width: 2901, height: 4096});
chart.setOption(option);
</script>
</body></html>
